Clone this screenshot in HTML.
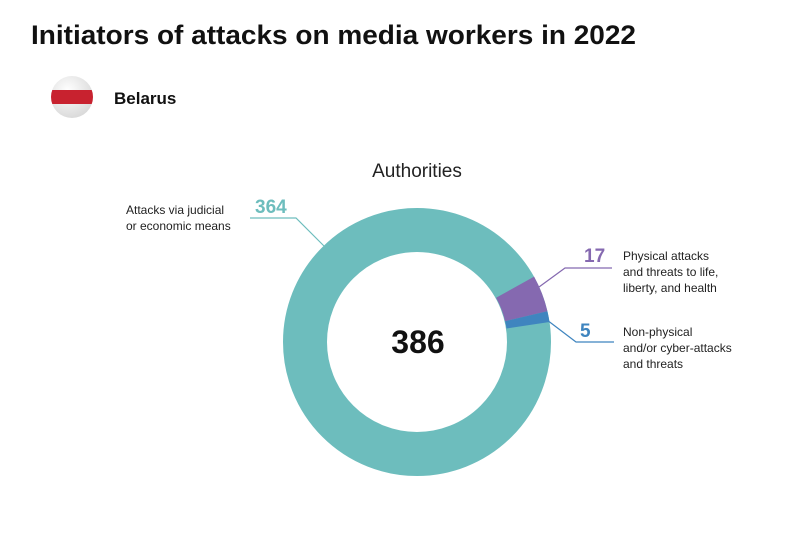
<!DOCTYPE html>
<html><head><style>
body{margin:0;background:#fff;width:800px;height:533px;overflow:hidden;font-family:"Liberation Sans",sans-serif}
</style></head><body>
<svg width="800" height="533" viewBox="0 0 800 533" xmlns="http://www.w3.org/2000/svg">
<defs><radialGradient id="g" cx="0.4" cy="0.35" r="0.7"><stop offset="0" stop-color="#fff"/><stop offset="1" stop-color="#d8d8d8"/></radialGradient>
<clipPath id="c"><circle cx="72" cy="97" r="21"/></clipPath></defs>
<text x="31" y="44" font-size="27" font-weight="bold" fill="#111" textLength="605" lengthAdjust="spacingAndGlyphs">Initiators of attacks on media workers in 2022</text>
<circle cx="72" cy="97" r="21" fill="url(#g)"/>
<rect x="50" y="90" width="44" height="14" fill="#c8222f" clip-path="url(#c)"/>
<text x="114" y="104" font-size="17" font-weight="bold" fill="#111">Belarus</text>
<text x="417" y="177" font-size="19" fill="#222" text-anchor="middle">Authorities</text>
<g transform="translate(417,342)">
<circle r="112" fill="none" stroke="#6dbdbd" stroke-width="44"/>
<path d="M117.1,-65.4 A134,134 0 0 1 130.4,-30.8 L88.1,-20.8 A90.5,90.5 0 0 0 79.1,-44.2 Z" fill="#8569b0"/>
<path d="M130.4,-30.8 A134,134 0 0 1 132.5,-20.0 L89.5,-13.5 A90.5,90.5 0 0 0 88.1,-20.8 Z" fill="#3f85bf"/>
</g>
<text x="418" y="353" font-size="32" font-weight="bold" fill="#111" text-anchor="middle">386</text>
<polyline points="324,246 296,218 250,218" fill="none" stroke="#6dbdbd" stroke-width="1.2"/>
<polyline points="539,287 565,268 612,268" fill="none" stroke="#8569b0" stroke-width="1.2"/>
<polyline points="547,320 576,342 614,342" fill="none" stroke="#3f85bf" stroke-width="1.2"/>
<text x="255" y="213" font-size="19" font-weight="bold" fill="#6dbdbd">364</text>
<text x="584" y="262" font-size="19" font-weight="bold" fill="#8569b0">17</text>
<text x="580" y="337" font-size="19" font-weight="bold" fill="#3f85bf">5</text>
<g font-size="12" fill="#222">
<text x="126" y="214">Attacks via judicial</text>
<text x="126" y="230">or economic means</text>
<text x="623" y="260">Physical attacks</text>
<text x="623" y="276">and threats to life,</text>
<text x="623" y="292">liberty, and health</text>
<text x="623" y="336">Non-physical</text>
<text x="623" y="352">and/or cyber-attacks</text>
<text x="623" y="368">and threats</text>
</g>
</svg>
</body></html>
